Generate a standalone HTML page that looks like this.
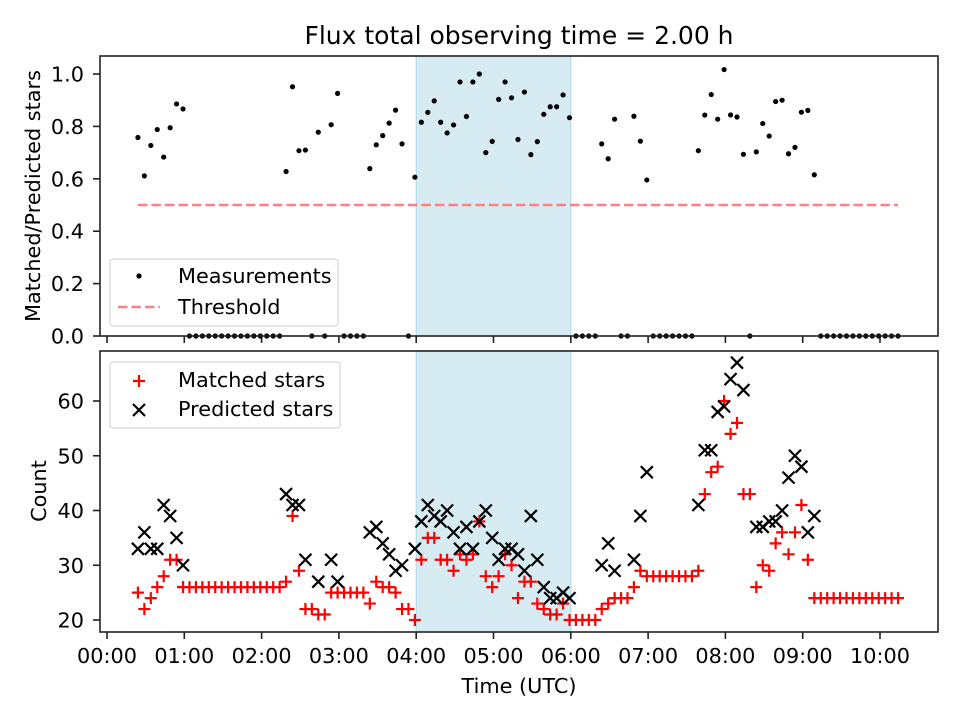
<!DOCTYPE html>
<html><head><meta charset="utf-8"><style>
body{margin:0;background:#fff}
svg{display:block;font-family:"DejaVu Sans","Liberation Sans",sans-serif}
</style></head><body>
<svg id="chart" width="960" height="720" viewBox="0 0 960 720" xmlns="http://www.w3.org/2000/svg">
<rect width="960" height="720" fill="#fff"/>
<text x="519" y="44" font-size="25" text-anchor="middle">Flux total observing time = 2.00 h</text>
<g id="topPanel"></g><g id="botPanel"></g>
</svg>
<script>
// sample times in minutes since 00:00
const times = [24,29,34,39,44,49,54,59,64,69,74,79,84,89,94,99,104,109,114,119,124,129,134,139,144,149,154,159,164,169,174,179,184,189,194,199,204,209,214,219,224,229,234,239,244,249,254,259,264,269,274,279,284,289,294,299,304,309,314,319,324,329,334,339,344,349,354,359,364,369,374,379,384,389,394,399,404,409,414,419,424,429,434,439,444,449,454,459,464,469,474,479,484,489,494,499,504,509,514,519,524,529,534,539,544,549,554,559,564,569,574,579,584,589,594,599,604,609,614];
const matched = [25,22,24,26,28,31,31,26,26,26,26,26,26,26,26,26,26,26,26,26,26,26,26,27,39,29,22,22,21,21,25,25,25,25,25,25,23,27,26,26,25,22,22,20,31,35,35,31,31,29,32,31,32,38,28,26,28,32,30,24,27,27,23,22,21,21,23,20,20,20,20,20,22,23,24,24,24,26,29,28,28,28,28,28,28,28,28,29,43,47,48,60,54,56,43,43,26,30,29,34,36,32,36,41,31,24,24,24,24,24,24,24,24,24,24,24,24,24,24];
const predicted = [33,36,33,33,41,39,35,30,null,null,null,null,null,null,null,null,null,null,null,null,null,null,null,43,41,41,31,null,27,null,31,27,null,null,null,null,36,37,34,32,29,30,null,33,38,41,39,38,40,36,33,37,33,38,40,35,31,33,33,32,29,39,31,26,24,24,25,24,null,null,null,null,30,34,29,null,null,31,39,47,null,null,null,null,null,null,null,41,51,51,58,59,64,67,62,null,37,37,38,38,40,46,50,48,36,39,null,null,null,null,null,null,null,null,null,null,null,null,null];
const threshold = 0.5;
const spanStart = 240, spanEnd = 360;
const xTickLabels = ["00:00","01:00","02:00","03:00","04:00","05:00","06:00","07:00","08:00","09:00","10:00"];
const topTicks = [0.0,0.2,0.4,0.6,0.8,1.0];
const botTicks = [20,30,40,50,60];

const NS="http://www.w3.org/2000/svg";
const X=m=>107+m/60*77.3;
const L=100,R=938;
const FS=20.8, M=6;
const Yt=v=>336-v*262, Yb=v=>620-(v-20)*5.475;
function el(p,tag,a){const e=document.createElementNS(NS,tag);for(const k in a)e.setAttribute(k,a[k]);p.appendChild(e);return e;}
const gTop=document.getElementById('topPanel'), gBot=document.getElementById('botPanel');
function panel(g,y0,y1,name){
  const s=el(g,'rect',{x:X(spanStart),y:y0,width:X(spanEnd)-X(spanStart),height:y1-y0,fill:'#add8e6','fill-opacity':0.5,stroke:'#add8e6','stroke-width':1});
  
  
  xTickLabels.forEach((t,i)=>{el(g,'line',{x1:X(i*60),x2:X(i*60),y1:y1,y2:y1+7,stroke:'#222','stroke-width':1.6});});
}
panel(gTop,56,336,'top');panel(gBot,351,632,'bottom');
const th=el(gTop,'line',{x1:X(times[0]),x2:X(times[times.length-1]),y1:Yt(threshold),y2:Yt(threshold),stroke:'#ff8080','stroke-width':2.5,'stroke-dasharray':'9.5,4'});


times.forEach((t,i)=>{
  const r=predicted[i]?matched[i]/predicted[i]:0;
  const c=el(gTop,'circle',{cx:X(t),cy:Yt(r),r:2.6,fill:'#000'});
  
  
});
times.forEach((t,i)=>{
  const x=X(t),y=Yb(matched[i]);
  const p=el(gBot,'path',{d:`M${x-M},${y}H${x+M}M${x},${y-M}V${y+M}`,stroke:'#f00','stroke-width':2.2});
  
  
});
times.forEach((t,i)=>{
  if(predicted[i]==null)return;
  const x=X(t),y=Yb(predicted[i]);
  const p=el(gBot,'path',{d:`M${x-M},${y-M}L${x+M},${y+M}M${x-M},${y+M}L${x+M},${y-M}`,stroke:'#000','stroke-width':2.2});
  
  
});
el(gTop,'rect',{x:L,y:56,width:R-L,height:280,fill:'none',stroke:'#222','stroke-width':1.6});
el(gBot,'rect',{x:L,y:351,width:R-L,height:281,fill:'none',stroke:'#222','stroke-width':1.6});
topTicks.forEach(v=>{el(gTop,'line',{x1:L-7,x2:L,y1:Yt(v),y2:Yt(v),stroke:'#222','stroke-width':1.6});
  const tx=el(gTop,'text',{x:L-16,y:Yt(v)+7.5,'font-size':FS,'text-anchor':'end'});tx.textContent=v.toFixed(1);
  
  });
botTicks.forEach(v=>{el(gBot,'line',{x1:L-7,x2:L,y1:Yb(v),y2:Yb(v),stroke:'#222','stroke-width':1.6});
  const tx=el(gBot,'text',{x:L-16,y:Yb(v)+7.5,'font-size':FS,'text-anchor':'end'});tx.textContent=v;
  
  });
xTickLabels.forEach((s,i)=>{const tx=el(gBot,'text',{x:X(i*60),y:663,'font-size':FS,'text-anchor':'middle'});tx.textContent=s;
  
  });
let a=el(gTop,'text',{x:0,y:0,'font-size':FS,'text-anchor':'middle',transform:'translate(40,196) rotate(-90)'});a.textContent='Matched/Predicted stars';


a=el(gBot,'text',{x:0,y:0,'font-size':FS,'text-anchor':'middle',transform:'translate(46,491) rotate(-90)'});a.textContent='Count';


a=el(gBot,'text',{x:519,y:693,'font-size':FS,'text-anchor':'middle'});a.textContent='Time (UTC)';


const lg1=el(gTop,'g',{});


el(lg1,'rect',{x:110,y:259,width:228,height:67,rx:3,fill:'#fff','fill-opacity':0.8,stroke:'#ccc'});
el(lg1,'circle',{cx:139,cy:276,r:2.6,fill:'#000'});
el(lg1,'line',{x1:118,x2:160,y1:307,y2:307,stroke:'#ff8080','stroke-width':2.5,'stroke-dasharray':'9.5,4'});
a=el(lg1,'text',{x:178,y:283,'font-size':FS});a.textContent='Measurements';
a=el(lg1,'text',{x:178,y:314,'font-size':FS});a.textContent='Threshold';
const lg2=el(gBot,'g',{});


el(lg2,'rect',{x:110,y:362,width:230,height:66,rx:3,fill:'#fff','fill-opacity':0.8,stroke:'#ccc'});
el(lg2,'path',{d:'M133,381H145M139,375V387',stroke:'#f00','stroke-width':2.2});
el(lg2,'path',{d:'M133,404L145,416M133,416L145,404',stroke:'#000','stroke-width':2.2});
a=el(lg2,'text',{x:178,y:387,'font-size':FS});a.textContent='Matched stars';
a=el(lg2,'text',{x:178,y:416,'font-size':FS});a.textContent='Predicted stars';
</script>
</body></html>
